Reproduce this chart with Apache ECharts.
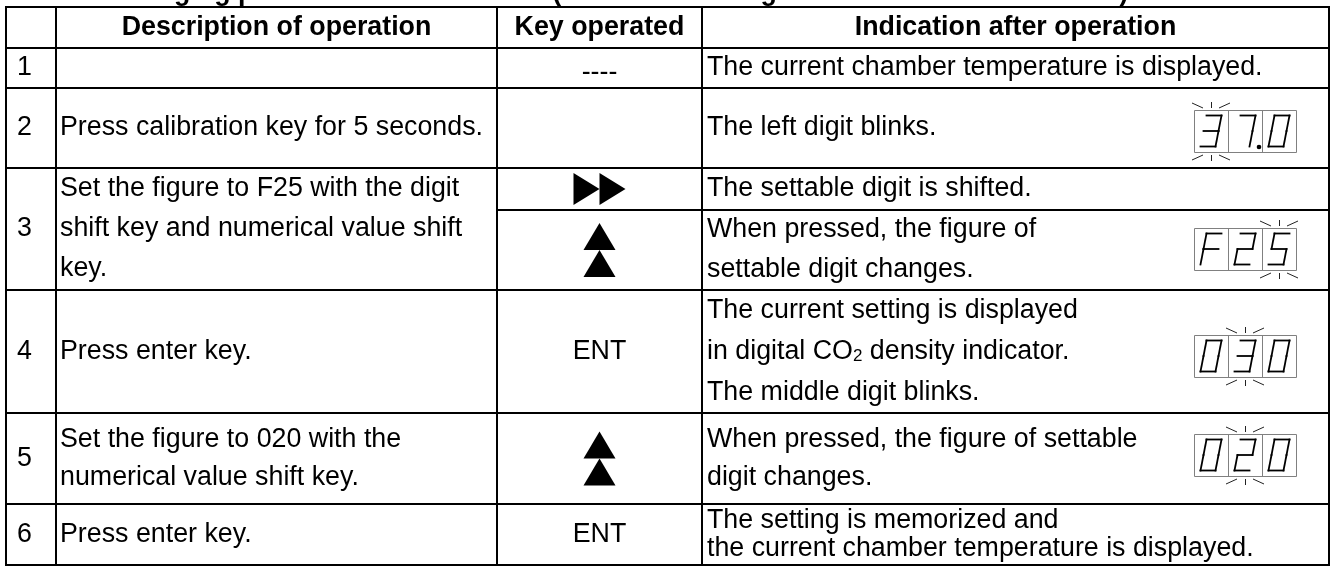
<!DOCTYPE html>
<html><head><meta charset="utf-8">
<script src="https://cdn.jsdelivr.net/npm/echarts@6/dist/echarts.min.js"></script>
<style>html,body{margin:0;padding:0;background:#fff}#c{width:1333px;height:566px}</style>
</head><body><div id="c"></div>
<script>
// ---------- data ----------
const titleText = 'Changing procedure of calibration (When the setting is 030 and the value is 020)';
const headers = ['', 'Description of operation', 'Key operated', 'Indication after operation'];
const stepNumbers = ['1', '2', '3', '4', '5', '6'];
const descriptions = [
  [],
  ['Press calibration key for 5 seconds.'],
  ['Set the figure to F25 with the digit', 'shift key and numerical value shift', 'key.'],
  ['Press enter key.'],
  ['Set the figure to 020 with the', 'numerical value shift key.'],
  ['Press enter key.']
];
// one entry per sub-row (step 3 has two sub-rows)
const subRowStep = [0, 1, 2, 2, 3, 4, 5];
const keysOperated = ['----', '', 'shift', 'up', 'ENT', 'up', 'ENT'];
const indications = [
  ['The current chamber temperature is displayed.'],
  ['The left digit blinks.'],
  ['The settable digit is shifted.'],
  ['When pressed, the figure of', 'settable digit changes.'],
  ['The current setting is displayed', 'in digital CO{sub|2} density indicator.', 'The middle digit blinks.'],
  ['When pressed, the figure of settable', 'digit changes.'],
  ['The setting is memorized and', 'the current chamber temperature is displayed.']
];
const displayDigits = [null, ['3', '7', '0'], null, ['F', '2', '5'], ['0', '3', '0'], ['0', '2', '0'], null];
const displayDot = [null, 1, null, null, null, null, null];
const displayBlink = [null, 0, null, 2, 1, 1, null];

// ---------- layout (hidden pixel-unit axes) ----------
const colEdges = [6, 56, 497, 702, 1329];
const rowEdges = [7, 48, 88, 168, 210, 290, 413, 504, 565]; // header + 7 sub-rows
const lineGap = [40, 40, 40, 40, 40, 41, 38, 28];
const dispRight = 1296, dispCellW = 34, dispH = 42;
const dispCenterY = [null, 131, null, 248.5, 356, 455, null];
const FONT = '26.8px "Liberation Sans", Arial, Helvetica, sans-serif';
const BFONT = 'bold 26.8px "Liberation Sans", Arial, Helvetica, sans-serif';

// sub-row ranges for each step
const stepRange = stepNumbers.map((_, s) => {
  const subs = subRowStep.map((v, i) => v === s ? i : -1).filter(i => i >= 0);
  return [subs[0] + 1, subs[subs.length - 1] + 1];
});

// ---------- cells ----------
const cells = [];
for (let c = 0; c < 4; c++) cells.push([colEdges[c], rowEdges[0], colEdges[c + 1], rowEdges[1]]);
stepNumbers.forEach((_, s) => {
  const [r0, r1] = stepRange[s];
  for (let c = 0; c < 2; c++) cells.push([colEdges[c], rowEdges[r0], colEdges[c + 1], rowEdges[r1 + 1]]);
  for (let r = r0; r <= r1; r++)
    for (let c = 2; c < 4; c++) cells.push([colEdges[c], rowEdges[r], colEdges[c + 1], rowEdges[r + 1]]);
});

// ---------- texts ----------
const texts = [];
function addLines(lines, x, yc, align, gap, font, dy) {
  const n = lines.length;
  lines.forEach((t, i) => {
    texts.push({ x: x, y: yc + (i - (n - 1) / 2) * gap + (dy || 0), text: t, align: align, font: font });
  });
}
const mid = (a, b) => (a + b) / 2;
headers.forEach((h, c) => { if (h) addLines([h], mid(colEdges[c], colEdges[c + 1]), mid(rowEdges[0], rowEdges[1]), 'center', 40, BFONT); });
stepNumbers.forEach((n, s) => {
  const [r0, r1] = stepRange[s];
  const yc = mid(rowEdges[r0], rowEdges[r1 + 1]);
  addLines([n], colEdges[0] + 11, yc, 'left', 40, FONT);
  addLines(descriptions[s], colEdges[1] + 4, yc, 'left', lineGap[r0], FONT);
});
keysOperated.forEach((k, i) => {
  const r = i + 1;
  const yc = mid(rowEdges[r], rowEdges[r + 1]);
  const xc = mid(colEdges[2], colEdges[3]);
  if (k === '----') addLines([k], xc, yc, 'center', 40, FONT, 5);
  else if (k === 'ENT') addLines([k], xc, yc, 'center', 40, FONT);
});
indications.forEach((lines, i) => {
  const r = i + 1;
  addLines(lines, colEdges[3] + 5, mid(rowEdges[r], rowEdges[r + 1]), 'left', lineGap[r], FONT);
});

// key symbols
const symbols = [];
keysOperated.forEach((k, i) => {
  if (k === 'shift' || k === 'up') {
    const r = i + 1;
    symbols.push({ x: mid(colEdges[2], colEdges[3]), y: mid(rowEdges[r], rowEdges[r + 1]), kind: k });
  }
});

// displays
const displays = [];
displayDigits.forEach((d, i) => {
  if (d) displays.push({ x: dispRight, y: dispCenterY[i], digits: d, dot: displayDot[i], blink: displayBlink[i] });
});

const SEG = { a: [[0, 0], [1, 0]], b: [[1, 0], [1, .5]], c: [[1, .5], [1, 1]], d: [[0, 1], [1, 1]], e: [[0, .5], [0, 1]], f: [[0, 0], [0, .5]], g: [[0, .5], [1, .5]] };
const GLYPH = { '0': 'abcdef', '1': 'bc', '2': 'abged', '3': 'abgcd', '5': 'afgcd', '7': 'abc', 'F': 'afge' };

const chart = echarts.init(document.getElementById('c'), null, { renderer: 'canvas', width: 1333, height: 566 });
const option = {
  animation: false,
  backgroundColor: '#ffffff',
  grid: { left: 0, right: 0, top: 0, bottom: 0 },
  xAxis: { type: 'value', min: 0, max: 1333, show: false },
  yAxis: { type: 'value', min: 0, max: 566, inverse: true, show: false },
  series: [
    {
      type: 'custom', name: 'title', clip: false, silent: true,
      data: [[107, -7]],
      renderItem(params, api) {
        const p = api.coord([api.value(0), api.value(1)]);
        return { type: 'text', style: { text: titleText, x: p[0], y: p[1], fill: '#000', font: BFONT, align: 'left', verticalAlign: 'middle', textAlign: 'left', textVerticalAlign: 'middle' } };
      }
    },
    {
      type: 'custom', name: 'cells', clip: false, silent: true,
      data: cells,
      renderItem(params, api) {
        const p0 = api.coord([api.value(0), api.value(1)]);
        const p1 = api.coord([api.value(2), api.value(3)]);
        return { type: 'rect', shape: { x: p0[0], y: p0[1], width: p1[0] - p0[0], height: p1[1] - p0[1] }, style: { fill: 'none', stroke: '#000', lineWidth: 2 } };
      }
    },
    {
      type: 'custom', name: 'texts', clip: false, silent: true,
      data: texts.map(t => [t.x, t.y]),
      renderItem(params, api) {
        const t = texts[params.dataIndex];
        const p = api.coord([api.value(0), api.value(1)]);
        return {
          type: 'text', style: {
            text: t.text, x: p[0], y: p[1], fill: '#000', font: t.font,
            align: t.align, verticalAlign: 'middle', textAlign: t.align, textVerticalAlign: 'middle',
            rich: { sub: { fontSize: 17, fontFamily: '"Liberation Sans", Arial, sans-serif', verticalAlign: 'bottom' } }
          }
        };
      }
    },
    {
      type: 'custom', name: 'keys', clip: false, silent: true,
      data: symbols.map(s => [s.x, s.y]),
      renderItem(params, api) {
        const s = symbols[params.dataIndex];
        const p = api.coord([api.value(0), api.value(1)]);
        const cx = p[0], cy = p[1];
        let polys;
        if (s.kind === 'shift') {
          const w = 26, h = 32;
          polys = [[[cx - w, cy - h / 2], [cx, cy], [cx - w, cy + h / 2]], [[cx, cy - h / 2], [cx + w, cy], [cx, cy + h / 2]]];
        } else {
          const w = 32, h = 27;
          polys = [[[cx - w / 2, cy], [cx, cy - h], [cx + w / 2, cy]], [[cx - w / 2, cy + h], [cx, cy], [cx + w / 2, cy + h]]];
        }
        return { type: 'group', children: polys.map(pts => ({ type: 'polygon', shape: { points: pts }, style: { fill: '#000', stroke: 'none' } })) };
      }
    },
    {
      type: 'custom', name: 'displays', clip: false, silent: true,
      data: displays.map(d => [d.x, d.y]),
      renderItem(params, api) {
        const d = displays[params.dataIndex];
        const p = api.coord([api.value(0), api.value(1)]);
        const n = d.digits.length;
        const right = Math.round(p[0]), top = Math.round(p[1] - dispH / 2);
        const left = right - n * dispCellW, bottom = top + dispH;
        const ch = [];
        ch.push({ type: 'rect', shape: { x: left + 0.5, y: top + 0.5, width: n * dispCellW, height: dispH }, style: { fill: '#fff', stroke: '#808080', lineWidth: 1 } });
        for (let i = 1; i < n; i++) {
          const x = left + i * dispCellW + 0.5;
          ch.push({ type: 'line', shape: { x1: x, y1: top, x2: x, y2: bottom }, style: { stroke: '#808080', lineWidth: 1 } });
        }
        const dw = 15, dh = 31, sk = 6;
        d.digits.forEach((g, i) => {
          const cxm = left + i * dispCellW + dispCellW / 2;
          const dx = cxm - dw / 2 - sk / 2, dy = (top + bottom) / 2 - dh / 2;
          const map = (u, v) => [dx + u * dw + (1 - v) * sk, dy + v * dh];
          (GLYPH[g] || '').split('').forEach(sname => {
            const sg = SEG[sname];
            const a = map(sg[0][0], sg[0][1]), b = map(sg[1][0], sg[1][1]);
            ch.push({ type: 'line', shape: { x1: a[0], y1: a[1], x2: b[0], y2: b[1] }, style: { stroke: '#000', lineWidth: 1.8, lineCap: 'square' } });
          });
        });
        if (d.dot != null) {
          const xr = left + (d.dot + 1) * dispCellW;
          ch.push({ type: 'circle', shape: { cx: xr - 3, cy: bottom - 5, r: 2.3 }, style: { fill: '#000' } });
        }
        if (d.blink != null) {
          const x0 = left + d.blink * dispCellW, x1 = x0 + dispCellW, cxm = (x0 + x1) / 2;
          const st = { stroke: '#222', lineWidth: 1 };
          const L = (a, b, c, e) => ({ type: 'line', shape: { x1: a, y1: b, x2: c, y2: e }, style: st });
          ch.push(L(x0 - 2, top - 7, x0 + 9, top - 2));
          ch.push(L(cxm + 0.5, top - 8, cxm + 0.5, top - 2));
          ch.push(L(x1 - 9, top - 2, x1 + 2, top - 7));
          ch.push(L(x0 - 2, bottom + 8, x0 + 9, bottom + 3));
          ch.push(L(cxm + 0.5, bottom + 3, cxm + 0.5, bottom + 9));
          ch.push(L(x1 - 9, bottom + 3, x1 + 2, bottom + 8));
        }
        return { type: 'group', children: ch };
      }
    }
  ]
};
chart.setOption(option);
</script>
</body></html>
